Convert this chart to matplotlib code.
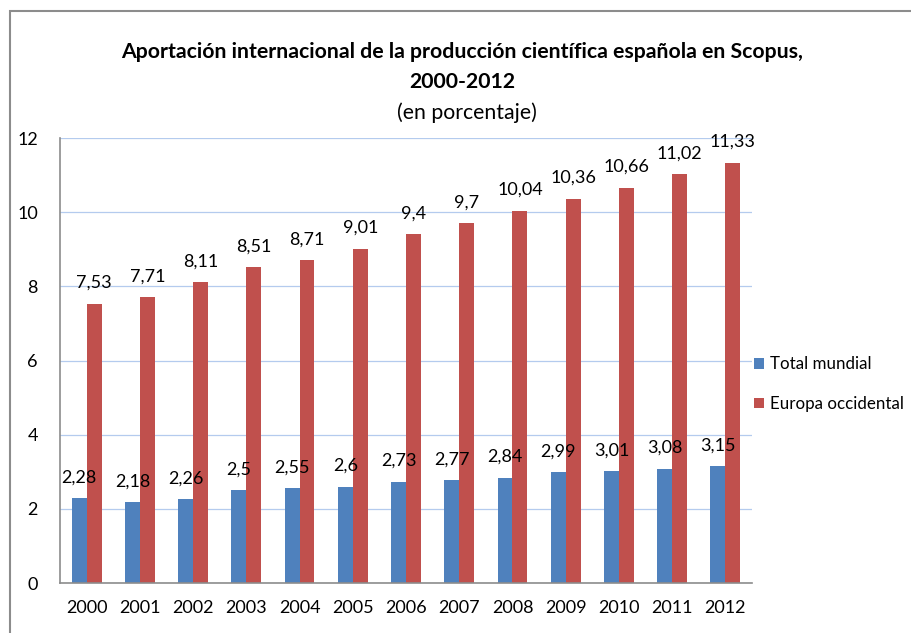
import matplotlib.pyplot as plt
import numpy as np
from matplotlib.patches import Rectangle

years = ['2000', '2001', '2002', '2003', '2004', '2005', '2006',
         '2007', '2008', '2009', '2010', '2011', '2012']
total_mundial = [2.28, 2.18, 2.26, 2.5, 2.55, 2.6, 2.73, 2.77, 2.84, 2.99, 3.01, 3.08, 3.15]
europa_occ = [7.53, 7.71, 8.11, 8.51, 8.71, 9.01, 9.4, 9.7, 10.04, 10.36, 10.66, 11.02, 11.33]
series_names = ['Total mundial', 'Europa occidental']

plt.rcParams['font.family'] = ['Lato', 'DejaVu Sans']

fig = plt.figure(figsize=(9.11, 6.33), dpi=100)
ax = fig.add_axes([60 / 911, 1 - 583 / 633, 692 / 911, 445 / 633])

# outer frame, only top and left edges are visible
fig.patches.append(Rectangle((10 / 911, -0.1), 1.2, 1 - 11 / 633 + 0.1,
                             transform=fig.transFigure, fill=False,
                             edgecolor='#8c8c8c', linewidth=1.5))

x = np.arange(len(years))
w = 0.28
b1 = ax.bar(x - w / 2, total_mundial, w, color='#4f81bd', label=series_names[0])
b2 = ax.bar(x + w / 2, europa_occ, w, color='#c0504d', label=series_names[1])

def fmt(v):
    return ('%g' % v).replace('.', ',')

for xs, vals in [(x - w / 2, total_mundial), (x + w / 2, europa_occ)]:
    for xi, v in zip(xs, vals):
        ax.annotate(fmt(v), (xi, v), xytext=(0, 15), textcoords='offset points',
                    ha='center', va='center', fontsize=13)

ax.set_xlim(-0.5, len(years) - 0.5)
ax.set_ylim(0, 12)
ax.set_yticks(range(0, 13, 2))
ax.set_xticks(x)
ax.set_xticklabels(years)
ax.tick_params(axis='both', length=0, labelsize=13, colors='black')
ax.tick_params(axis='y', pad=16)
ax.tick_params(axis='x', pad=12)
ax.yaxis.grid(True, color='#b4cbee', linewidth=0.9)
ax.set_axisbelow(True)
for s in ['top', 'right']:
    ax.spines[s].set_visible(False)
for s in ['left', 'bottom']:
    ax.spines[s].set_color('#8c8c8c')
    ax.spines[s].set_linewidth(1.2)

fig.text(462 / 911, 1 - 52 / 633, 'Aportación internacional de la producción científica española en Scopus,',
         ha='center', va='center', fontsize=15.3, fontweight='bold')
fig.text(462 / 911, 1 - 82 / 633, '2000-2012', ha='center', va='center', fontsize=15.3, fontweight='bold')
fig.text(467 / 911, 1 - 113 / 633, '(en porcentaje)', ha='center', va='center', fontsize=15.3)

fig.legend(handles=[b1, b2], loc='center left', bbox_to_anchor=(754 / 911, 1 - 384 / 633),
           frameon=False, fontsize=12.2, handlelength=0.6, handleheight=0.6,
           handletextpad=0.35, labelspacing=1.4, borderaxespad=0, borderpad=0)

fig.savefig('out.png', dpi=100)
